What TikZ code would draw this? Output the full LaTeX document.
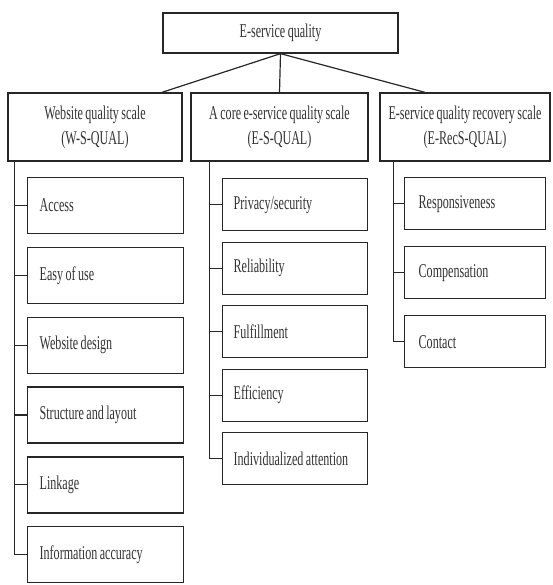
\documentclass[tikz,border=0pt]{standalone}
\usepackage{fontspec}
\setmainfont{Liberation Serif}[FakeStretch=0.62, WordSpace=0.8]
\usepackage{tikz}
\usetikzlibrary{positioning}

\tikzset{
  headbox/.style={draw=black!85, line width=1.3pt, fill=white, inner xsep=2pt,
    text=black!80, align=center},
  scalehead/.style={headbox, minimum height=68},
  itembox/.style={draw=black!85, line width=1.3pt, fill=white, anchor=north west,
    text=black!80, align=flush left},
  link/.style={draw=black!85, line width=1.2pt},
}

\begin{document}
\begin{tikzpicture}[x=1pt, y=1pt, font=\fontsize{19.5}{25}\selectfont]
\useasboundingbox (0,0) rectangle (552,-585);
% top and the three scales
\node[headbox, minimum width=235, minimum height=40] (esq) at (280.5,-33) {E-service quality};
\node[scalehead, minimum width=174] (wsq) at (95,-127) {Website quality scale\\(W-S-QUAL)};
\node[scalehead, minimum width=177] (csq) at (279.5,-127) {A core e-service quality scale\\(E-S-QUAL)};
\node[scalehead, minimum width=170] (rsq) at (465,-127) {E-service quality recovery scale\\(E-RecS-QUAL)};
\draw[link] (esq.south) -- ([xshift=67]wsq.north);
\draw[link] (esq.south) -- (csq.north);
\draw[link] (esq.south) -- ([xshift=-40]rsq.north);
% W-S-QUAL items
\foreach \i/\txt in {1/Access, 2/Easy of use, 3/Website design, 4/Structure and layout, 5/Linkage, 6/Information accuracy} {
\node[itembox, inner xsep=12, text width=132, minimum height=56] (w\i) at (27,{-177-69.8*(\i-1)}) {\txt};
}
\coordinate (wl) at ([xshift=7]wsq.south west);
\draw[link] (wl) |- (w6.west);
\foreach \i in {1,...,5} {
\draw[link] (w\i.west) -- (w\i.west -| wl);
}
% E-S-QUAL items
\foreach \i/\txt in {1/{Privacy/security}, 2/Reliability, 3/Fulfillment, 4/Efficiency, 5/Individualized attention} {
\node[itembox, inner xsep=11, text width=123, minimum height=52] (c\i) at (222,{-178-63.5*(\i-1)}) {\txt};
}
\coordinate (cl) at ([xshift=19]csq.south west);
\draw[link] (cl) |- (c5.west);
\foreach \i in {1,...,4} {
\draw[link] (c\i.west) -- (c\i.west -| cl);
}
% E-RecS-QUAL items
\foreach \i/\txt in {1/Responsiveness, 2/Compensation, 3/Contact} {
\node[itembox, inner xsep=14, text width=113, minimum height=52] (r\i) at (404,{-177-69*(\i-1)}) {\txt};
}
\coordinate (rl) at ([xshift=14]rsq.south west);
\draw[link] (rl) |- (r3.west);
\foreach \i in {1,2} {
\draw[link] (r\i.west) -- (r\i.west -| rl);
}
\end{tikzpicture}
\end{document}
